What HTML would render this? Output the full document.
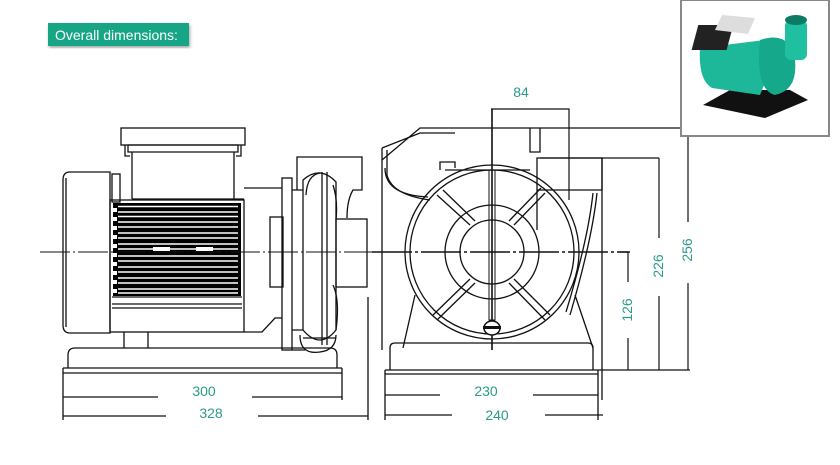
<!DOCTYPE html>
<html><head><meta charset="utf-8"><style>
html,body{margin:0;padding:0;background:#fff;}
svg{display:block}
.l{fill:none;stroke:#111;stroke-width:1.3}
.t{font-family:"Liberation Sans",sans-serif;font-size:14px;fill:#2a9a8a}
</style></head><body>
<svg width="840" height="465" viewBox="0 0 840 465" xmlns="http://www.w3.org/2000/svg">
<defs><filter id="sh"><feDropShadow dx="1" dy="2" stdDeviation="1.5" flood-color="#000" flood-opacity="0.35"/></filter></defs>
<rect x="48" y="23" width="141" height="23" fill="#18a585" filter="url(#sh)"/>
<text x="55" y="40" font-family="Liberation Sans,sans-serif" font-size="14" fill="#fff">Overall dimensions:</text>

<!-- LEFT VIEW -->
<g class="l">
<rect x="121" y="128" width="124" height="17"/>
<path d="M128 145 V152 H132 V199 M238 145 V152 H234 V199 M132 152 H234 M128 145 H238"/>
<path d="M125 145 V156 H130 M241 145 V156 H236"/>
<path d="M132 199 H244"/>
<path d="M70 172 H110 V333 H70 Q63 333 63 325 V180 Q63 172 70 172 Z"/>
<path d="M66 178 V327"/>
<rect x="110" y="200" width="134" height="132"/>
<rect x="112" y="174" width="8" height="28"/>
<path d="M112 297 H242 M112 304 H242 M112 308 H242"/>
<path d="M244 188 H282 M244 332 H262 L275 318 H282"/>
<path d="M124 332 V348 M148 332 V348"/>
<rect x="282" y="178" width="10" height="172"/>
<rect x="270" y="217" width="13" height="70"/>
<path d="M292 190 H303 M292 330 H303 M292 350 H305"/>
<path d="M297 190 V157 H362 V190 H353 Q347 200 347 218"/>
<rect x="336" y="219" width="31" height="68"/>
<path d="M368 297 V420"/>
<path d="M303 180 Q320 165 336 182 V330 Q320 350 303 330 Z"/>
<path d="M306 195 Q307 175 320 173 M322 172 V345 M327 172 V345 M333 185 Q338 200 336 220 M333 285 Q340 300 336 330"/>
<path d="M300 335 Q300 355 320 352 Q336 350 336 335 M303 338 H336"/>
<path d="M68 368 V355 Q68 348 75 348 H330 Q337 348 337 355 V368"/>
<path d="M63 368 H342 M63 373 H342 M63 368 V420 M342 368 V400"/>
</g>
<rect x="113" y="203" width="128" height="93" fill="#000"/>
<g stroke="#fff" stroke-width="1.6">
<line x1="118" y1="206.5" x2="238" y2="206.5"/><line x1="118" y1="212" x2="238" y2="212"/><line x1="118" y1="216.5" x2="238" y2="216.5"/><line x1="118" y1="222" x2="238" y2="222"/><line x1="118" y1="227" x2="238" y2="227"/><line x1="118" y1="233" x2="238" y2="233"/><line x1="118" y1="238" x2="238" y2="238"/><line x1="118" y1="244" x2="238" y2="244"/><line x1="118" y1="249" x2="238" y2="249"/><line x1="118" y1="256" x2="238" y2="256"/><line x1="118" y1="261" x2="238" y2="261"/><line x1="118" y1="267" x2="238" y2="267"/><line x1="118" y1="272" x2="238" y2="272"/><line x1="118" y1="278" x2="238" y2="278"/><line x1="118" y1="283" x2="238" y2="283"/><line x1="118" y1="289" x2="238" y2="289"/><line x1="118" y1="293" x2="238" y2="293"/>
</g>
<g fill="#fff"><rect x="113" y="208" width="4" height="4"/><rect x="113" y="217" width="4" height="4"/><rect x="113" y="226" width="4" height="4"/><rect x="113" y="235" width="4" height="4"/><rect x="113" y="244" width="4" height="4"/><rect x="113" y="253" width="4" height="4"/><rect x="113" y="262" width="4" height="4"/><rect x="113" y="271" width="4" height="4"/><rect x="113" y="280" width="4" height="4"/><rect x="113" y="289" width="4" height="4"/>
<rect x="153" y="247" width="17" height="4"/><rect x="196" y="247" width="17" height="4"/></g>
<line x1="40" y1="252" x2="378" y2="252" stroke="#111" stroke-width="1" stroke-dasharray="30 3 2 3"/>
<g stroke="#111" stroke-width="1.2">
<path d="M63 397 H158 M252 397 H342 M63 416 H166 M258 416 H368"/>
</g>
<text class="t" x="204" y="396" text-anchor="middle">300</text>
<text class="t" x="211" y="418" text-anchor="middle">328</text>

<!-- RIGHT VIEW -->
<g class="l">
<path d="M382 160 L420 128 H688"/>
<path d="M382 148 L420 133 H455"/>
<path d="M382 148 V350 M387 150 V175 Q392 195 430 200"/>
<path d="M385 168 Q385 195 428 197"/>
<path d="M530 128 V152 H540 V128"/>
<circle cx="492" cy="252" r="87"/>
<circle cx="492" cy="252" r="82"/>
<circle cx="492" cy="252" r="47"/>
<circle cx="492" cy="252" r="32"/>
<path d="M437 195 L470 225 M514 225 L545 193 M470 279 L433 315 M514 279 L550 315"/>
<path d="M443 190 L475 221 M509 221 L541 188 M475 283 L437 320 M509 283 L545 320"/>
<path d="M445 170 H530 M440 170 V162 H455 V168"/>
<path d="M537 158 H602 V190 H537 Z M537 190 V230"/>
<path d="M597 193 Q592 240 570 315 M593 193 Q588 240 566 312"/>
<path d="M415 295 L403 348 M575 295 L593 348"/>
<path d="M390 348 Q390 343 395 343 H588 Q593 343 593 348 V370 M390 348 V370"/>
<path d="M385 370 H598 M385 374 H598 M385 370 V420 M598 370 V420 M602 158 V400"/>
</g>
<line x1="492" y1="109" x2="492" y2="350" stroke="#111" stroke-width="1.6"/>
<rect x="489" y="170" width="6" height="150" fill="none" stroke="#111" stroke-width="1"/>
<ellipse cx="492" cy="328" rx="8" ry="7" fill="#fff" stroke="#111" stroke-width="1.5"/>
<rect x="483" y="326" width="18" height="3" fill="#111"/>
<line x1="372" y1="252" x2="630" y2="252" stroke="#111" stroke-width="1.6" stroke-dasharray="40 3 3 3"/>
<g stroke="#111" stroke-width="1.2" fill="none">
<path d="M491 109 H569 V200 M540 158 H659 M620 252 H628 M598 370 H690"/>
<path d="M628 252 V282 M628 338 V370 M659 158 V238 M659 296 V370 M688 128 V222 M688 283 V370"/>
<path d="M385 395 H440 M533 395 H598 M385 415 H452 M545 415 H603"/>
</g>
<text class="t" x="521" y="97" text-anchor="middle">84</text>
<text class="t" x="486" y="396" text-anchor="middle">230</text>
<text class="t" x="497" y="420" text-anchor="middle">240</text>
<text class="t" transform="translate(632 310) rotate(-90)" text-anchor="middle">126</text>
<text class="t" transform="translate(663 266) rotate(-90)" text-anchor="middle">226</text>
<text class="t" transform="translate(692 250) rotate(-90)" text-anchor="middle">256</text>

<!-- PHOTO -->
<rect x="681" y="0" width="148" height="136" fill="#fff" stroke="#888" stroke-width="2"/>
<path d="M703 105 L765 118 L808 100 L790 90 L730 90 Z" fill="#111"/>
<path d="M700 48 Q698 80 712 88 L760 95 L770 70 L765 40 Z" fill="#1db89a"/>
<rect x="705" y="25" width="35" height="25" fill="#222" transform="skewX(-15)"/>
<path d="M722 15 L755 18 L748 34 L715 30 Z" fill="#ddd"/>
<path d="M760 40 Q790 30 795 60 Q798 90 775 95 Q755 90 760 40 Z" fill="#16a88a"/>
<rect x="785" y="20" width="22" height="40" rx="6" fill="#1fbfa0"/>
<ellipse cx="796" cy="20" rx="11" ry="5" fill="#0c7a64"/>
</svg>
</body></html>
